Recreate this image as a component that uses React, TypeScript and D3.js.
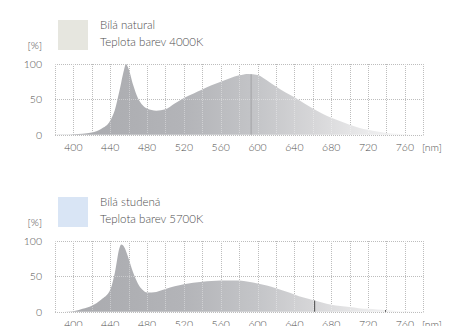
import React from 'react';
import * as d3 from 'd3';

// wavelength grid (nm) and relative intensity (%)
const naturalNm = [380, 390, 400, 410, 420, 430, 440, 445, 450, 455, 457, 460, 465, 470, 475, 480, 490, 500, 510, 520, 530, 540, 550, 560, 570, 580, 590, 600, 610, 620, 630, 640, 650, 660, 670, 680, 690, 700, 710, 720, 730, 740, 750, 760, 770, 780];
const naturalVal = [0, 0.2, 0.8, 1.5, 3, 8, 20, 35, 62, 92, 100, 93, 70, 52, 42, 37, 34, 36, 44, 52, 58, 64, 70, 75, 80, 84, 86, 84.5, 77, 68, 60, 53, 45, 37, 30, 24, 19, 14, 10, 7, 4.5, 2.5, 1.2, 0.5, 0.1, 0];

const coldNm = [380, 390, 400, 410, 420, 430, 440, 445, 450, 452, 455, 460, 465, 470, 475, 480, 490, 500, 510, 520, 530, 540, 550, 560, 570, 580, 590, 600, 610, 620, 630, 640, 650, 660, 670, 680, 690, 700, 710, 720, 730, 740, 750, 760, 770, 780];
const coldVal = [0, 0, 0.5, 4, 8.5, 17, 31, 55, 90, 95, 92, 75, 55, 40, 31, 27, 28, 32, 36, 39, 41, 42.5, 43.5, 44, 44.3, 44, 42.5, 40, 37, 33, 29, 24.5, 20, 16.5, 13, 10, 8, 6.6, 5, 4, 3, 2, 1, 0.5, 0.2, 0];

const xTicks = [400, 440, 480, 520, 560, 600, 640, 680, 720, 760];
const yTicks = [0, 50, 100];
const gridNm = d3.range(380, 781, 20);

// small dark marks visible inside the fills
const naturalMarks = [{ nm: 593, color: '#a2a3a6' }];
const coldMarks = [{ nm: 662, color: '#4a4a4a' }, { nm: 739, color: '#333' }];

const FONT = "Lato, 'Open Sans', sans-serif";
const TEXT = '#4e4e4e';

const x = d3.scaleLinear().domain([380, 780]).range([55, 423.3]);

interface PanelProps {
  id: string;
  top: number;
  title: string;
  subtitle: string;
  swatch: string;
  nm: number[];
  val: number[];
  marks: { nm: number; color: string }[];
}

const Panel: React.FC<PanelProps> = ({ id, top, title, subtitle, swatch, nm, val, marks }) => {
  const y0 = top + 64;
  const y = d3.scaleLinear().domain([0, 100]).range([y0 + 70.7, y0]);
  const pts = nm.map((n, i) => [n, val[i]] as [number, number]);
  const area = d3.area<[number, number]>()
    .x(d => x(d[0]))
    .y0(y(0))
    .y1(d => y(d[1]))
    .curve(d3.curveMonotoneX);
  const valAt = (n: number) => {
    const i = d3.bisectLeft(nm, n);
    if (i <= 0) return val[0];
    const t = (n - nm[i - 1]) / (nm[i] - nm[i - 1]);
    return val[i - 1] + t * (val[i] - val[i - 1]);
  };
  const gridLines = (stroke: string) => (
    <g stroke={stroke} strokeWidth={1} strokeDasharray="1,1" fill="none">
      {gridNm.map(n => (
        <line key={'v' + n} x1={Math.round(x(n)) + 0.5} x2={Math.round(x(n)) + 0.5} y1={y(100)} y2={y(0)} />
      ))}
      {yTicks.map(t => (
        <line key={'h' + t} x1={x(380)} x2={x(780)} y1={Math.round(y(t)) + 0.5} y2={Math.round(y(t)) + 0.5} />
      ))}
    </g>
  );
  return (
    <g>
      <defs>
        <linearGradient id={id} gradientUnits="userSpaceOnUse" x1={x(380)} x2={x(780)} y1={0} y2={0}>
          <stop offset="0%" stopColor="#a8a9ad" />
          <stop offset="35%" stopColor="#b3b4b8" />
          <stop offset="55%" stopColor="#c4c5c8" />
          <stop offset="70%" stopColor="#d6d6d8" />
          <stop offset="85%" stopColor="#ebebec" />
          <stop offset="100%" stopColor="#f7f7f7" />
        </linearGradient>
      </defs>
      <rect x={58} y={top + 20} width={30} height={30} fill={swatch} />
      <text x={100} y={top + 29} fontFamily={FONT} fontWeight={300} fontSize={11.5} fill={TEXT}>{title}</text>
      <text x={100} y={top + 46} fontFamily={FONT} fontWeight={300} fontSize={11.5} fill={TEXT}>{subtitle}</text>
      <text x={42} y={top + 49} textAnchor="end" fontFamily={FONT} fontWeight={300} fontSize={10.5} fill={TEXT}>[%]</text>
      {gridLines('#9a9a9a')}
      <path d={area(pts) || ''} fill={`url(#${id})`} />
      {gridLines('rgba(255,255,255,0.35)')}
      {marks.map(m => (
        <line key={m.nm} x1={x(m.nm)} x2={x(m.nm)} y1={y(valAt(m.nm))} y2={y(0)} stroke={m.color} strokeWidth={1} />
      ))}
      {yTicks.map(t => (
        <text key={t} x={42} y={y(t) + 3.8} textAnchor="end" fontFamily={FONT} fontWeight={300} fontSize={10.5} fill={TEXT}>{t}</text>
      ))}
      {xTicks.map(t => (
        <text key={t} x={x(t)} y={y(0) + 16.5} textAnchor="middle" fontFamily={FONT} fontWeight={300} fontSize={10.5} fill={TEXT}>{t}</text>
      ))}
      <text x={422} y={y(0) + 16.5} fontFamily={FONT} fontWeight={300} fontSize={10.5} fill={TEXT}>[nm]</text>
    </g>
  );
};

export default function App() {
  return (
    <div style={{ position: 'absolute', left: 0, top: 0 }}>
      <svg width={461} height={326} style={{ display: 'block', background: '#fff' }}>
        <Panel id="gNatural" top={0} title="Bílá natural" subtitle="Teplota barev 4000K" swatch="#e6e6df"
          nm={naturalNm} val={naturalVal} marks={naturalMarks} />
        <Panel id="gCold" top={177} title="Bílá studená" subtitle="Teplota barev 5700K" swatch="#d9e5f5"
          nm={coldNm} val={coldVal} marks={coldMarks} />
      </svg>
    </div>
  );
}
